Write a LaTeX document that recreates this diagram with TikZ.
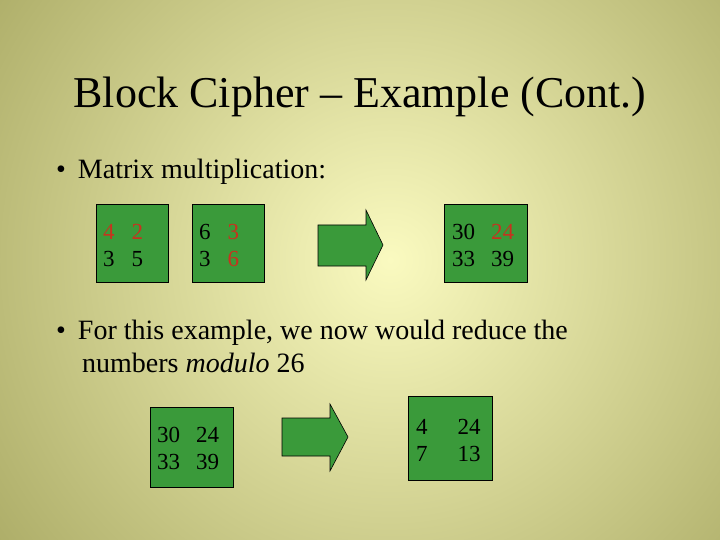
\documentclass[tikz,border=0pt]{standalone}
\usepackage{fontspec}
\setmainfont{Liberation Serif}
\definecolor{boxg}{HTML}{3A9A3A}
\definecolor{redn}{HTML}{C8321E}
\definecolor{bgin}{HTML}{FAFAC0}
\definecolor{bgout}{HTML}{A8A862}
\begin{document}
\begin{tikzpicture}[x=1pt,y=-1pt,
  mtxt/.style={font=\fontsize{23}{27}\selectfont,align=left,anchor=west,inner sep=0pt},
  bullet/.style={font=\fontsize{28}{33}\selectfont,anchor=west,align=left,inner sep=0pt},
  garrow/.style={draw=black,line width=0.6pt,fill=boxg}]
\useasboundingbox (0,0) rectangle (720,540);
\fill[bgout] (0,0) rectangle (720,540);
\begin{scope}
\clip (0,0) rectangle (720,540);
\shade[inner color=bgin,outer color=bgout] (390,260) circle (520);
\end{scope}
\node[font=\fontsize{44}{48}\selectfont] (title) at (360,97) {Block Cipher – Example (Cont.)};
\node[bullet] (b1) at (56,172) {•\hspace{12pt}Matrix multiplication:};
\draw[line width=0.8pt,fill=boxg] (96,204) rectangle (168,282);
\draw[line width=0.8pt,fill=boxg] (192,204) rectangle (264,282);
\draw[line width=0.8pt,fill=boxg] (444,204) rectangle (527,282);
\node[mtxt] (m1) at (103,245) {\textcolor{redn}{4}\hspace{17pt}\textcolor{redn}{2}\\3\hspace{17pt}5};
\node[mtxt] (m2) at (199,245) {6\hspace{17pt}\textcolor{redn}{3}\\3\hspace{17pt}\textcolor{redn}{6}};
\node[mtxt] (m3) at (452,245) {30\hspace{16pt}\textcolor{redn}{24}\\33\hspace{16pt}39};
\draw[garrow] (318,225) -- (366,225) -- (366,210) -- (383,245) -- (366,280) -- (366,266) -- (318,266) -- cycle;
\node[bullet] (b2) at (56,346) {•\hspace{12pt}For this example, we now would reduce the\\\hspace{26pt}numbers \textit{modulo} 26};
\draw[line width=0.8pt,fill=boxg] (150,407) rectangle (233,487);
\draw[line width=0.8pt,fill=boxg] (408,396) rectangle (492,480);
\node[mtxt] (m4) at (157,448) {30\hspace{16pt}24\\33\hspace{16pt}39};
\node[mtxt] (m5) at (416,440) {4\hspace{30pt}24\\7\hspace{30pt}13};
\draw[garrow] (282,418) -- (330,418) -- (330,404) -- (348,437) -- (330,471) -- (330,456) -- (282,456) -- cycle;
\end{tikzpicture}
\end{document}
